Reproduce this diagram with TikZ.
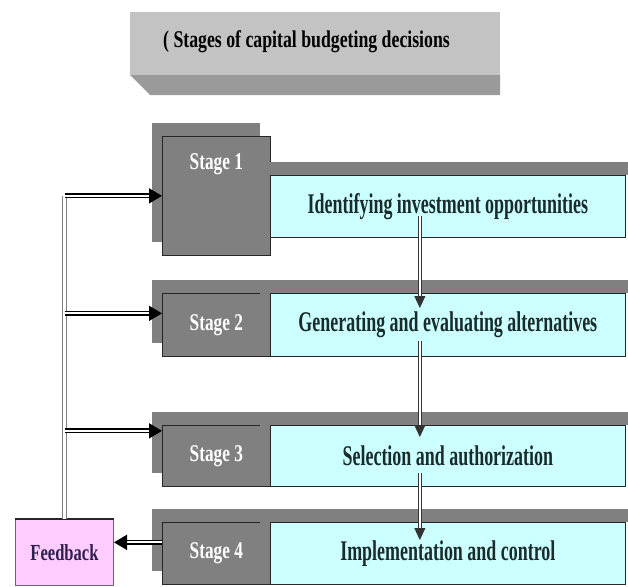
\documentclass[tikz,border=0pt]{standalone}
\usepackage{fontspec}
\setmainfont{Liberation Serif}
\newfontfamily\cbtitlefont[FakeStretch=0.74]{Liberation Serif}
\newfontfamily\cbtaskfont[FakeStretch=0.63]{Liberation Serif}
\newfontfamily\cbstagefont[FakeStretch=0.72]{Liberation Serif}
\usepackage{tikz}
\usetikzlibrary{calc, shapes, positioning, arrows.meta, shadows}
\definecolor{cbgrey}{HTML}{808080}
\definecolor{cbcyan}{HTML}{CCFFFF}
\definecolor{cbpink}{HTML}{FFCCFF}
\definecolor{cbtitletop}{HTML}{C3C3C3}
\definecolor{cbtitleside}{HTML}{9A9A9A}
\definecolor{cbtasktext}{HTML}{1A2B2B}
\definecolor{cbfbtext}{HTML}{2F1F4F}

\begin{document}
\begin{tikzpicture}[x=1pt, y=-1pt]
\tikzstyle{cb_stage}=[rectangle, fill=cbgrey, draw=black!85, line width=0.7pt,
	text=white, font=\cbstagefont\bfseries\fontsize{24}{26}\selectfont,
	minimum width=108pt, minimum height=63pt, inner sep=0pt, anchor=north west,
	general shadow={fill=cbgrey, shadow xshift=-10pt, shadow yshift=13pt}]
\tikzstyle{cb_task}=[rectangle, fill=cbcyan, draw=black!85, line width=0.7pt,
	text=cbtasktext, font=\cbtaskfont\bfseries\fontsize{28.5}{30}\selectfont,
	minimum width=355pt, minimum height=63pt, inner sep=0pt, anchor=north west,
	general shadow={fill=cbgrey, shadow xshift=-10pt, shadow yshift=13pt}]
\tikzstyle{cb_feedback}=[rectangle, fill=cbpink, draw=black!60, line width=1pt,
	text=cbfbtext, font=\cbstagefont\bfseries\fontsize{23}{25}\selectfont,
	minimum width=98pt, minimum height=66pt, inner sep=0pt, anchor=north west]
\tikzstyle{cb_flow}=[draw=black!80, double=white, double distance=2.5pt, line width=0.8pt,
	-{Triangle[length=12pt, width=11pt]}]
\tikzstyle{cb_loop}=[draw=black!50, double=white, double distance=3pt, line width=1pt]
\tikzstyle{cb_push}=[draw=black, double=white, double distance=2pt, line width=1.5pt,
	-{Triangle[length=13pt, width=15pt]}]

\useasboundingbox (0,0) rectangle (628,586);

\fill[cbtitletop] (130,12) rectangle (500,75);
\fill[cbtitleside] (130,75) -- (500,75) -- (500,95) -- (150,95) -- cycle;
\node[anchor=west, inner sep=0pt, font=\cbtitlefont\bfseries\fontsize{24}{26}\selectfont]
	(title) at (163,42) {( Stages of capital budgeting decisions};

\node[cb_stage, text height=33pt, text depth=86pt, minimum height=119pt] (s1) at (162,136) {Stage 1};
\node[cb_task, minimum height=62pt] (a1) at (270,175) {Identifying investment opportunities};
\node[cb_stage] (s2) at (162,293) {Stage 2};
\node[cb_task] (a2) at (270,293) {Generating and evaluating alternatives};
\node[cb_stage, minimum height=61pt] (s3) at (162,425) {Stage 3};
\node[cb_task, minimum height=61pt] (a3) at (270,425) {Selection and authorization};
\node[cb_stage, minimum height=62pt] (s4) at (162,522) {Stage 4};
\node[cb_task, minimum height=62pt] (a4) at (270,522) {Implementation and control};
\node[cb_feedback] (fb) at (15,519) {Feedback};
\draw[line width=2pt, black!85] (fb.north west) -- (fb.north east);

\foreach \t in {a1,a2,a3,a4}
	\fill[cbgrey] ([xshift=-16pt, yshift=13pt]\t.north east) rectangle ([xshift=10pt, yshift=-0.3pt]\t.north east);

\draw[cb_flow] ([xshift=-28pt, yshift=22pt]a1.south) -- ([xshift=-28pt, yshift=-15pt]a2.north);
\draw[cb_flow] ([xshift=-28pt, yshift=16pt]a2.south) -- ([xshift=-28pt, yshift=-12pt]a3.north);
\draw[cb_flow] ([xshift=-28pt, yshift=14pt]a3.south) -- ([xshift=-28pt, yshift=-18pt]a4.north);

\coordinate (in2) at ([yshift=11.5pt]s2.west);
\coordinate (in3) at ([yshift=25pt]s3.west);
\coordinate (out4) at ([yshift=11pt]s4.west);
\draw[cb_loop] (fb.north) -- (fb.north |- s1.west);
\draw[cb_push] (fb.north |- s1.west) -- (s1.west);
\draw[cb_push] (fb.north |- in2) -- (in2);
\draw[cb_push] (fb.north |- in3) -- (in3);
\draw[cb_push] (out4) -- (fb.east |- out4);

\end{tikzpicture}
\end{document}
